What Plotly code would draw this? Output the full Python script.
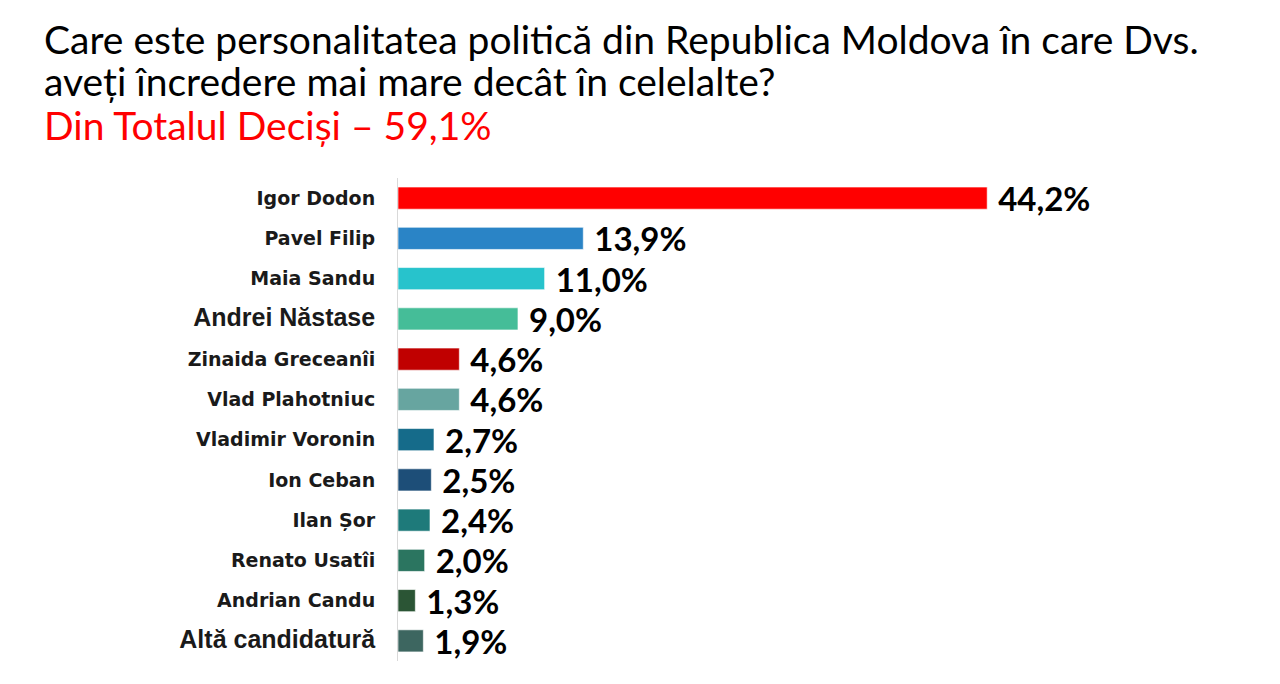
import plotly.graph_objects as go

categories = ["Igor Dodon", "Pavel Filip", "Maia Sandu", "Andrei Năstase", "Zinaida Greceanîi",
              "Vlad Plahotniuc", "Vladimir Voronin", "Ion Ceban", "Ilan Șor", "Renato Usatîi",
              "Andrian Candu", "Altă candidatură"]
values = [44.2, 13.9, 11.0, 9.0, 4.6, 4.6, 2.7, 2.5, 2.4, 2.0, 1.3, 1.9]
value_labels = ["44,2%", "13,9%", "11,0%", "9,0%", "4,6%", "4,6%", "2,7%", "2,5%", "2,4%", "2,0%", "1,3%", "1,9%"]
colors = ["#FF0000", "#2A84C6", "#27C3CC", "#45BD98", "#C00000", "#67A5A0",
          "#156B8A", "#1D4E78", "#1E7A7A", "#2B7560", "#2B5535", "#3D6660"]
arial_labels = {"Andrei Năstase", "Altă candidatură"}
title_lines = ["Care este personalitatea politică din Republica Moldova în care Dvs.",
               "aveți încredere mai mare decât în celelalte?",
               "Din Totalul Deciși – 59,1%"]
title_colors = ["black", "black", "#FF0000"]
title_centers_px = [39, 81, 125]

ticktext = []
for c in categories:
    if c in arial_labels:
        ticktext.append(f"<span style='font-family:Liberation Sans, Arial;font-size:25px'><b>{c}</b></span>")
    else:
        ticktext.append(f"<b>{c}</b>")

W, H = 1280, 684
L, R, T, B = 398, 80, 178, 23
plot_h = H - T - B
plot_w = W - L - R

fig = go.Figure(go.Bar(
    y=categories, x=values, orientation="h",
    marker=dict(color=colors, line=dict(color="rgba(255,255,255,0.6)", width=1)),
    text=[" " + v for v in value_labels], textposition="outside", cliponaxis=False,
    constraintext="none",
    textfont=dict(family="Lato", size=33, color="black", weight="bold"),
    width=0.55,
))

annotations = []
for txt, col, ypx in zip(title_lines, title_colors, title_centers_px):
    annotations.append(dict(
        text=txt, xref="paper", yref="paper",
        x=(42 - L) / plot_w, y=(H - B - ypx) / plot_h,
        xanchor="left", yanchor="middle", showarrow=False,
        font=dict(family="Lato", size=39, color=col)))

fig.update_layout(
    width=W, height=H,
    margin=dict(l=L, r=R, t=T, b=B),
    paper_bgcolor="white", plot_bgcolor="white",
    showlegend=False,
    xaxis=dict(range=[0, plot_w / 13.33], visible=False),
    yaxis=dict(categoryorder="array", categoryarray=categories, autorange="reversed",
               tickmode="array", tickvals=categories, ticktext=ticktext,
               showline=True, linecolor="#D9D9D9", linewidth=1, ticks="",
               ticklabelstandoff=18,
               tickfont=dict(family="DejaVu Sans", size=19, color="#1a1a1a")),
    annotations=annotations,
)

fig.write_html("out.html")
